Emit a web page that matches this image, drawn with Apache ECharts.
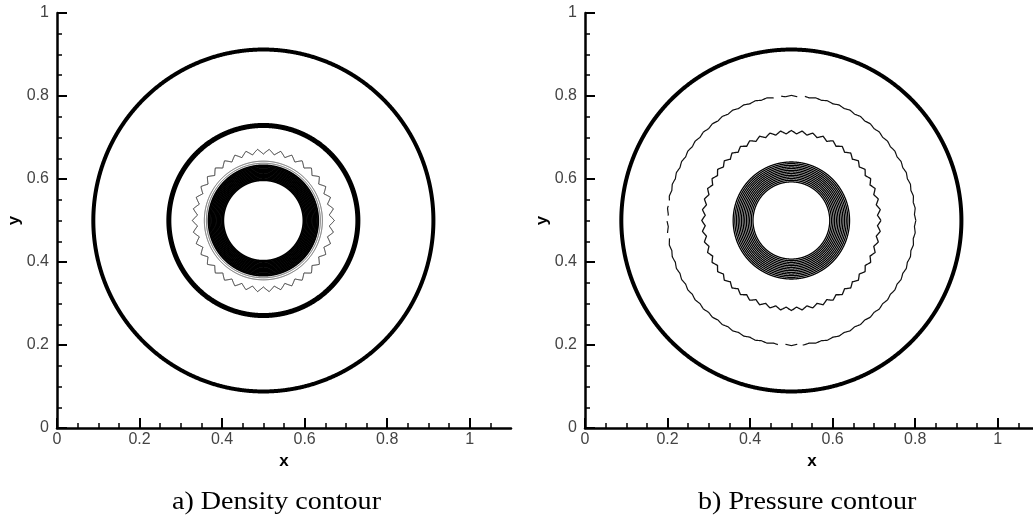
<!DOCTYPE html>
<html><head><meta charset="utf-8">
<script src="https://cdn.jsdelivr.net/npm/echarts@6/dist/echarts.min.js"></script>
<style>html,body{margin:0;padding:0;background:#fff;overflow:hidden}#c{width:1033px;height:524px}</style>
</head><body><div id="c"></div>
<script>
// ---- data ----
const center = [0.5, 0.5];
const xMajorTicks = [0, 0.2, 0.4, 0.6, 0.8, 1];
const xMinorTicks = [0.05, 0.1, 0.15, 0.25, 0.3, 0.35, 0.45, 0.5, 0.55, 0.65, 0.7, 0.75, 0.85, 0.9, 0.95, 1.05];
const yTickLabels = [0, 0.2, 0.4, 0.6, 0.8, 1];
const captions = ['a) Density contour', 'b) Pressure contour'];

// density contour radii (distance from centre)
const densityShock = [0.412];
const densityContact = [0.229];
const densityRipple = [0.166];
const densityThin = [0.138, 0.143];
const densityBand = [0.097, 0.100, 0.103, 0.106, 0.109, 0.112, 0.115, 0.118, 0.121, 0.124, 0.127, 0.130, 0.133];

// pressure contour radii
const pressureShock = [0.412];
const pressureOuter = [0.300];
const pressureRipple = [0.213];
const pressureBand = [0.093, 0.097, 0.101, 0.105, 0.109, 0.113, 0.117, 0.121, 0.125, 0.129, 0.133, 0.137, 0.141];
const pressureOuterGaps = [[84, 87], [95, 98], [171, 173], [178, 180], [186, 188], [264, 267], [273, 275]];

// ---- rendering ----
const chart = echarts.init(document.getElementById('c'), null, {renderer: 'canvas'});

function ringRenderer(opt) {
  return function (params, api) {
    const c = api.coord([api.value(0), api.value(1)]);
    const r = api.value(2);
    const rx = api.size([r, 0])[0];
    const ry = api.size([0, r])[1];
    const a = opt.amp ? api.size([opt.amp, 0])[0] : 0;
    const steps = 1440;
    const gaps = opt.gaps || [];
    const segs = [];
    let cur = [];
    for (let i = 0; i <= steps; i++) {
      const deg = i / steps * 360;
      const inGap = gaps.some(g => deg >= g[0] && deg <= g[1]);
      if (inGap) { if (cur.length > 1) segs.push(cur); cur = []; continue; }
      const t = deg * Math.PI / 180;
      let k = 0;
      if (opt.teeth) {
        const ph = (i / steps * opt.teeth) % 1;
        k = Math.abs(ph - 0.5) * 4 - 1;
      }
      cur.push([c[0] + (rx + a * k) * Math.cos(t), c[1] - (ry + a * k) * Math.sin(t)]);
    }
    if (cur.length > 1) segs.push(cur);
    return {
      type: 'group',
      children: segs.map(s => ({
        type: 'polyline',
        shape: {points: s},
        style: {stroke: opt.color || '#000', lineWidth: opt.width, fill: null}
      }))
    };
  };
}

function ringSeries(radii, gi, opt) {
  return {
    type: 'custom',
    coordinateSystem: 'cartesian2d',
    xAxisIndex: gi * 2,
    yAxisIndex: gi,
    silent: true,
    clip: false,
    animation: false,
    encode: {x: 0, y: 1},
    data: radii.map(r => [center[0], center[1], r]),
    renderItem: ringRenderer(opt)
  };
}

const labelColor = '#444';
const fmt = v => {
  const n = Math.round(v * 10) / 10;
  return n === 0 ? '0' : n === 1 ? '1' : n.toFixed(1);
};

const grids = [
  {left: 57, top: 13, width: 454, height: 415, containLabel: false, outerBoundsMode: 'none'},
  {left: 585, top: 13, width: 454, height: 415, containLabel: false, outerBoundsMode: 'none'}
];

const xAxes = [];
const yAxes = [];
[0, 1].forEach(gi => {
  xAxes.push({
    gridIndex: gi, type: 'value', min: 0, max: 1.1, position: 'bottom',
    name: 'x', nameLocation: 'middle', nameGap: 20,
    nameTextStyle: {fontFamily: 'Liberation Sans', fontWeight: 'bold', fontSize: 17, color: '#000'},
    axisLine: {show: true, onZero: false, lineStyle: {color: '#000', width: 2.5}},
    axisTick: {show: true, inside: true, length: 10, customValues: xMajorTicks, lineStyle: {color: '#000', width: 2}},
    axisLabel: {show: true, customValues: xMajorTicks, formatter: fmt, color: labelColor, fontFamily: 'Liberation Sans', fontSize: 16, margin: 4},
    splitLine: {show: false}
  });
  xAxes.push({
    gridIndex: gi, type: 'value', min: 0, max: 1.1, position: 'bottom',
    axisLine: {show: false, onZero: false},
    axisTick: {show: true, inside: true, length: 5, customValues: xMinorTicks, lineStyle: {color: '#000', width: 1.5}},
    axisLabel: {show: false},
    splitLine: {show: false}
  });
  yAxes.push({
    gridIndex: gi, type: 'value', min: 0, max: 1, interval: 0.2, position: 'left',
    name: 'y', nameLocation: 'middle', nameGap: 33, nameRotate: 90,
    nameTextStyle: {fontFamily: 'Liberation Sans', fontWeight: 'bold', fontSize: 17, color: '#000'},
    axisLine: {show: true, onZero: false, lineStyle: {color: '#000', width: 2.5}},
    axisTick: {show: true, inside: true, length: 10, lineStyle: {color: '#000', width: 2}},
    minorTick: {show: true, splitNumber: 4, length: 5, lineStyle: {color: '#000', width: 1.5}},
    axisLabel: {show: true, formatter: fmt, color: labelColor, fontFamily: 'Liberation Sans', fontSize: 16, margin: 8},
    splitLine: {show: false}, minorSplitLine: {show: false}
  });
});

const series = [
  ringSeries(densityShock, 0, {width: 4}),
  ringSeries(densityContact, 0, {width: 5}),
  ringSeries(densityRipple, 0, {width: 1, amp: 0.006, teeth: 38, color: '#222'}),
  ringSeries(densityThin, 0, {width: 1, color: '#555'}),
  ringSeries(densityBand, 0, {width: 1.8}),
  ringSeries(pressureShock, 1, {width: 4}),
  ringSeries(pressureOuter, 1, {width: 1.2, amp: 0.0015, teeth: 64, gaps: pressureOuterGaps, color: '#111'}),
  ringSeries(pressureRipple, 1, {width: 1.3, amp: 0.004, teeth: 52, color: '#111'}),
  ringSeries(pressureBand, 1, {width: 1.3})
];

chart.setOption({
  animation: false,
  backgroundColor: '#fff',
  grid: grids,
  xAxis: xAxes,
  yAxis: yAxes,
  series: series,
  graphic: captions.map((t, i) => ({
    type: 'text',
    x: i === 0 ? 172 : 698,
    y: 489,
    scaleX: 1.08,
    style: {text: t, fontFamily: 'Liberation Serif', fontSize: 26, fill: '#000'}
  }))
});
</script></body></html>
